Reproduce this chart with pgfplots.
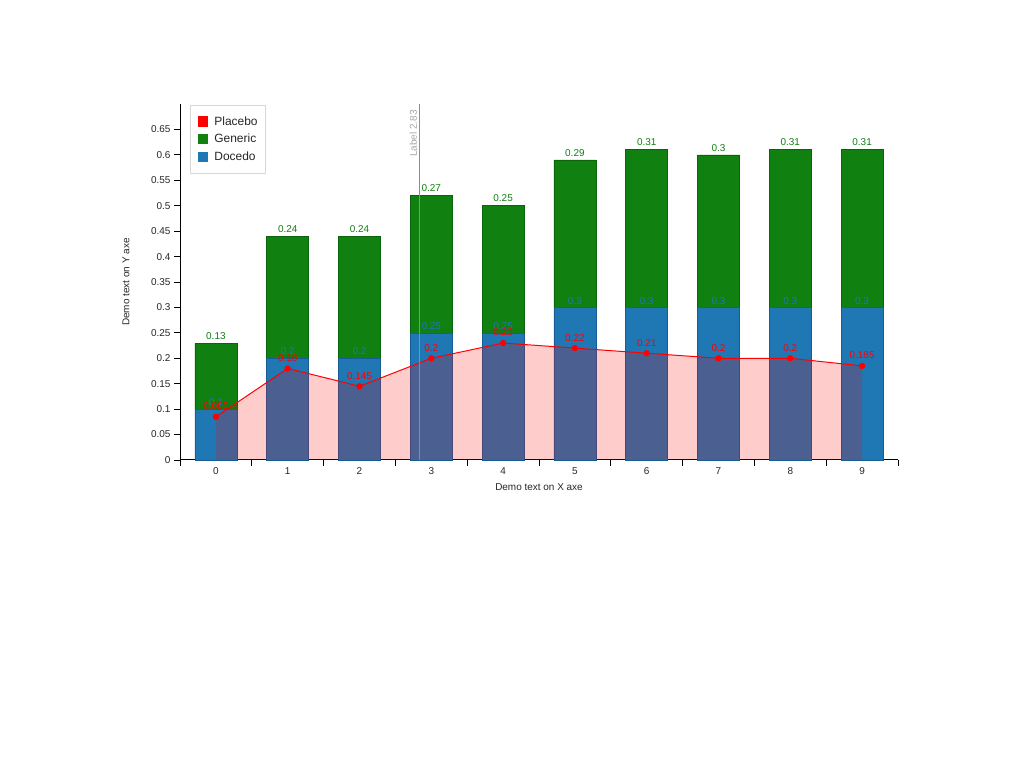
\documentclass[border=0pt]{standalone}
\usepackage{pgfplots}
\pgfplotsset{compat=1.18}
\usepackage{fontspec}
\setmainfont{Liberation Sans}
\definecolor{cblue}{RGB}{31,119,180}
\definecolor{cblueb}{RGB}{24,92,150}
\definecolor{cgreen}{RGB}{16,128,16}
\definecolor{cgreenb}{RGB}{10,100,10}
\definecolor{cred}{RGB}{255,0,0}
% x, Docedo (value, label), Generic (value, label), stacked top of Generic, Placebo (value, label)
\pgfplotstableread{
x d dl g gl top p pl
0 0.10 0.1  0.13 0.13 0.23 0.085 0.085
1 0.20 0.2  0.24 0.24 0.44 0.18  0.18
2 0.20 0.2  0.24 0.24 0.44 0.145 0.145
3 0.25 0.25 0.27 0.27 0.52 0.2   0.2
4 0.25 0.25 0.25 0.25 0.50 0.23  0.23
5 0.30 0.3  0.29 0.29 0.59 0.22  0.22
6 0.30 0.3  0.31 0.31 0.61 0.21  0.21
7 0.30 0.3  0.30 0.3  0.60 0.2   0.2
8 0.30 0.3  0.31 0.31 0.61 0.2   0.2
9 0.30 0.3  0.31 0.31 0.61 0.185 0.185
}\data
\tikzset{lbl/.style={font=\fontsize{10}{12}\selectfont}}
\pgfplotsset{
  common/.style={
    at={(180bp,308bp)}, anchor=south west,
    scale only axis, width=718bp, height=356bp,
    xmin=-0.5, xmax=9.5, ymin=0, ymax=0.7,
    clip=false,
  },
}
\begin{document}
\begin{tikzpicture}
\useasboundingbox (0,0) rectangle (1024bp,768bp);
% --- bars axis ---
\begin{axis}[
  common,
  ybar stacked, bar width=0.585,
  axis x line*=bottom, axis y line*=left,
  axis line style={black, line width=1pt, -},
  tick align=outside,
  major tick length=6bp,
  tick style={black, line width=0.8pt},
  xtick={-0.5,0.5,...,9.5}, xticklabels={},
  extra x ticks={0,1,2,3,4,5,6,7,8,9},
  extra x tick labels={0,1,2,3,4,5,6,7,8,9},
  extra x tick style={major tick length=0pt, xticklabel style={yshift=-4bp}},
  ytick={0,0.05,0.1,0.15,0.2,0.25,0.3,0.35,0.4,0.45,0.5,0.55,0.6,0.65},
  /pgf/number format/assume math mode=true,
  yticklabel={\pgfmathprintnumber[fixed,precision=2]{\tick}},
  ticklabel style={lbl, text=black!85},
  xlabel={Demo text on X axe},
  ylabel={Demo text on Y axe},
  every axis x label/.style={at={(axis description cs:0.5,-0.0758)}, anchor=center, lbl, text=black!85},
  every axis y label/.style={at={(axis description cs:-0.0752,0.5)}, rotate=90, anchor=center, lbl, text=black!85},
]
\addplot[fill=cblue, draw=cblueb, line width=0.6pt] table[x=x, y=d] {\data};
\addplot[fill=cgreen, draw=cgreenb, line width=0.6pt] table[x=x, y=g] {\data};
\end{axis}
% --- overlay axis: labels, placebo, marker line, legend ---
\begin{axis}[
  common,
  hide axis,
  legend style={at={(axis description cs:0.0139,0.997)}, anchor=north west,
    draw={rgb,255:red,215;green,215;blue,215}, line width=0.8pt,
    font=\fontsize{12}{14}\selectfont, text=black!85,
    inner xsep=6bp, inner ysep=9bp, row sep=3.5bp,
    nodes={inner sep=2bp}},
  legend cell align=left,
]
\addlegendimage{draw=none, legend image code/.code={\path[draw=none, fill=none] (0bp,-6bp) rectangle (16bp,6bp); \path[fill=cred, draw=none] (1.5bp,-5.25bp) rectangle (12bp,5.25bp);}}
\addlegendentry{Placebo}
\addlegendimage{draw=none, legend image code/.code={\path[draw=none, fill=none] (0bp,-6bp) rectangle (16bp,6bp); \path[fill=cgreen, draw=none] (1.5bp,-5.25bp) rectangle (12bp,5.25bp);}}
\addlegendentry{Generic}
\addlegendimage{draw=none, legend image code/.code={\path[draw=none, fill=none] (0bp,-6bp) rectangle (16bp,6bp); \path[fill=cblue, draw=none] (1.5bp,-5.25bp) rectangle (12bp,5.25bp);}}
\addlegendentry{Docedo}

% value labels of the bars
\addplot[draw=none, mark=none, forget plot,
  nodes near coords, point meta=explicit symbolic,
  nodes near coords style={text=cblue, anchor=south, inner sep=1.5bp, yshift=1.5bp, lbl}]
  table[x=x, y=d, meta=dl] {\data};
\addplot[draw=none, mark=none, forget plot,
  nodes near coords, point meta=explicit symbolic,
  nodes near coords style={text=cgreen, anchor=south, inner sep=1.5bp, yshift=2bp, lbl}]
  table[x=x, y=top, meta=gl] {\data};

% placebo area and line
\addplot[draw=none, fill=cred, fill opacity=0.2, forget plot]
  table[x=x, y=p] {\data} \closedcycle;
\addplot[cred, line width=1pt, mark=*, mark size=2.6bp, mark options={fill=cred, draw=cred}, forget plot,
  nodes near coords, point meta=explicit symbolic,
  nodes near coords style={text=cred, anchor=south, inner sep=2bp, yshift=4.5bp, lbl}]
  table[x=x, y=p, meta=pl] {\data};

\draw[black!45, line width=0.8pt] (axis cs:2.83,0) -- (axis cs:2.83,0.7);
\node[rotate=90, anchor=south east, text=black!35, inner sep=2bp, lbl]
  at (axis cs:2.83,0.692) {Label 2.83};
\end{axis}
\end{tikzpicture}
\end{document}
